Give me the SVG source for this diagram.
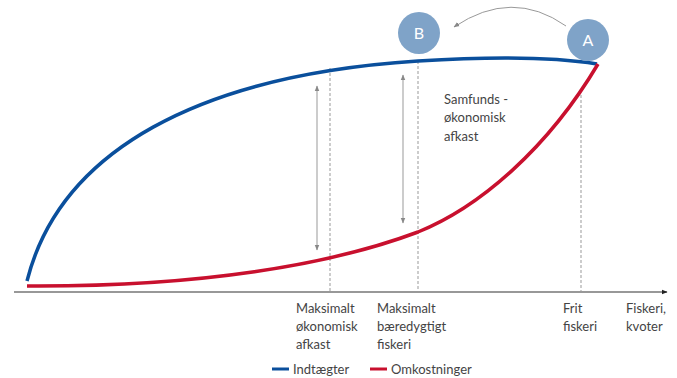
<svg xmlns="http://www.w3.org/2000/svg" width="677" height="378" viewBox="0 0 677 378">
<defs>
<marker id="ah" viewBox="0 0 10 10" refX="9" refY="5" markerWidth="6" markerHeight="6" orient="auto-start-reverse"><path d="M0,1 L10,5 L0,9 z" fill="#888"/></marker>
<marker id="axh" viewBox="0 0 10 10" refX="9" refY="5" markerWidth="5" markerHeight="5" orient="auto"><path d="M0,1 L10,5 L0,9 z" fill="#222"/></marker>
</defs>
<style>
text{font-family:"Lato","Open Sans","Liberation Sans",sans-serif;font-size:13px;fill:#444}
.dash{stroke:#999;stroke-width:1;stroke-dasharray:3,2;fill:none}
.gar{stroke:#999;stroke-width:1;fill:none}
.circ{fill:#7fa3c8}
.ct{fill:#fff;font-size:16px;text-anchor:middle}
</style>
<rect width="677" height="378" fill="#fff"/>
<g id="connectors">
<line x1="14" y1="292" x2="667" y2="292" stroke="#333" stroke-width="1.2" marker-end="url(#axh)"/>
<line class="dash" x1="330" y1="68" x2="330" y2="292"/>
<line class="dash" x1="418" y1="61" x2="418" y2="292"/>
<line class="dash" x1="581" y1="95" x2="581" y2="292"/>
<line class="gar" x1="317" y1="86" x2="317" y2="250" marker-start="url(#ah)" marker-end="url(#ah)"/>
<line class="gar" x1="403" y1="75" x2="403" y2="223" marker-start="url(#ah)" marker-end="url(#ah)"/>
<path class="gar" d="M566,26 Q512,-12 454,27" marker-end="url(#ah)"/>
<path id="revenue" d="M27,281 C60,150 200,75 418,61 C500,56 560,58 597,64" fill="none" stroke="#0a4f9c" stroke-width="3.5"/>
<path id="cost" d="M27,286 C200,287 330,265 418,232 C480,207 548,148 598,64" fill="none" stroke="#c8102e" stroke-width="3.5"/>
</g>
<g id="nodeA"><circle class="circ" cx="588" cy="40" r="21"/><text class="ct" x="588" y="46">A</text></g>
<g id="nodeB"><circle class="circ" cx="419" cy="33" r="21"/><text class="ct" x="419" y="39">B</text></g>
<g id="label-samfund"><text x="444" y="104">Samfunds -</text><text x="444" y="122">økonomisk</text><text x="444" y="141">afkast</text></g>
<g id="label-moa"><text x="296" y="313">Maksimalt</text><text x="296" y="331">økonomisk</text><text x="296" y="349">afkast</text></g>
<g id="label-mbf"><text x="377" y="313">Maksimalt</text><text x="377" y="331">bæredygtigt</text><text x="377" y="349">fiskeri</text></g>
<g id="label-frit"><text x="563" y="313">Frit</text><text x="563" y="331">fiskeri</text></g>
<g id="label-axis"><text x="626" y="313">Fiskeri,</text><text x="626" y="331">kvoter</text></g>
<g id="legend">
<line x1="272" y1="369" x2="289" y2="369" stroke="#0a4f9c" stroke-width="3"/>
<text x="293" y="374">Indtægter</text>
<line x1="370" y1="369" x2="387" y2="369" stroke="#c8102e" stroke-width="3"/>
<text x="391" y="374">Omkostninger</text>
</g>
</svg>
